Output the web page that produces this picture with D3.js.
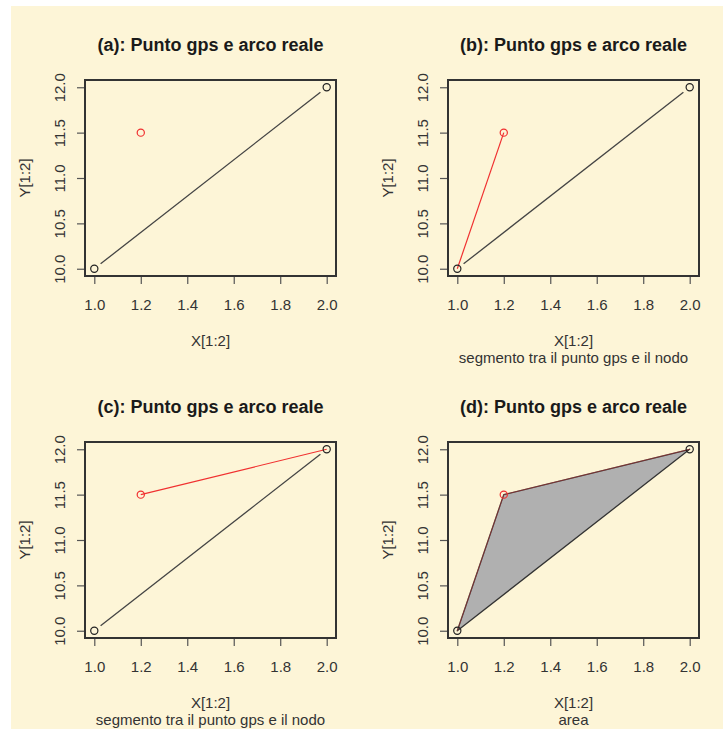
<!DOCTYPE html>
<html>
<head>
<meta charset="utf-8">
<script src="https://cdn.jsdelivr.net/npm/d3@7"></script>
<style>
html,body{margin:0;padding:0;background:#ffffff;}
svg{display:block;}
text{font-family:"Liberation Sans",Arial,Helvetica,sans-serif;}
</style>
</head>
<body>
<script>
// ---- data ----
const arcX = [1, 2];
const arcY = [10, 12];
const gpsX = [1.2];
const gpsY = [11.5];
const xTicks = [1.0, 1.2, 1.4, 1.6, 1.8, 2.0];
const yTicks = [10.0, 10.5, 11.0, 11.5, 12.0];
const titles = ["(a): Punto gps e arco reale", "(b): Punto gps e arco reale",
                "(c): Punto gps e arco reale", "(d): Punto gps e arco reale"];
const subs = ["", "segmento tra il punto gps e il nodo", "segmento tra il punto gps e il nodo", "area"];
const xLab = "X[1:2]";
const yLab = "Y[1:2]";

const W = 723, H = 729;
const svg = d3.select("body").append("svg").attr("width", W).attr("height", H);
svg.append("rect").attr("x", 11).attr("y", 6).attr("width", W - 11).attr("height", H - 6).attr("fill", "#fdf5d7");

const boxes = [
  {l: 85, t: 80, r: 336, b: 276},
  {l: 448, t: 80, r: 699, b: 276},
  {l: 85, t: 442, r: 336, b: 638},
  {l: 448, t: 442, r: 699, b: 638}
];

const ink = "#333";
const FS = 15;

function pad(d) { const e = (d[1] - d[0]) * 0.04; return [d[0] - e, d[1] + e]; }

boxes.forEach((bx, i) => {
  const g = svg.append("g");
  const x = d3.scaleLinear().domain(pad([d3.min(arcX), d3.max(arcX)])).range([bx.l, bx.r]);
  const y = d3.scaleLinear().domain(pad([d3.min(arcY), d3.max(arcY)])).range([bx.b, bx.t]);
  const cx = (bx.l + bx.r) / 2, cy = (bx.t + bx.b) / 2;

  // title
  g.append("text").attr("x", cx).attr("y", bx.t - 29).attr("text-anchor", "middle")
    .attr("font-size", 18).attr("font-weight", "bold").attr("fill", "#1a1a1a").text(titles[i]);

  // axes
  const ax = g.append("g").attr("transform", `translate(0,${bx.b})`)
    .call(d3.axisBottom(x).tickValues(xTicks).tickFormat(d3.format(".1f")).tickSize(8).tickPadding(15));
  ax.select(".domain").remove();
  ax.selectAll("line").attr("stroke", "#555").attr("stroke-width", 1.2);
  ax.selectAll("text").attr("font-size", FS).attr("fill", ink).attr("font-family", "Liberation Sans, Arial, sans-serif");

  const ay = g.append("g").attr("transform", `translate(${bx.l},0)`)
    .call(d3.axisLeft(y).tickValues(yTicks).tickFormat(d3.format(".1f")).tickSize(8));
  ay.select(".domain").remove();
  ay.selectAll("line").attr("stroke", "#555").attr("stroke-width", 1.2);
  ay.selectAll("text").attr("x", 0).attr("dy", 0)
    .attr("transform", "translate(-20,0) rotate(-90)")
    .attr("text-anchor", "middle")
    .attr("font-size", FS).attr("fill", ink).attr("font-family", "Liberation Sans, Arial, sans-serif");

  // axis labels
  g.append("text").attr("x", cx).attr("y", bx.b + 70).attr("text-anchor", "middle")
    .attr("font-size", FS).attr("fill", ink).text(xLab);
  if (subs[i]) {
    g.append("text").attr("x", cx).attr("y", bx.b + 87).attr("text-anchor", "middle")
      .attr("font-size", FS).attr("fill", ink).text(subs[i]);
  }
  g.append("text").attr("transform", `translate(${bx.l - 55},${cy}) rotate(-90)`).attr("text-anchor", "middle")
    .attr("font-size", FS).attr("fill", ink).text(yLab);

  const P0 = [x(arcX[0]), y(arcY[0])], P1 = [x(arcX[1]), y(arcY[1])], G = [x(gpsX[0]), y(gpsY[0])];

  if (i === 3) {
    // area polygon
    g.append("path").attr("d", d3.line()([P0, G, P1]) + "Z")
      .attr("fill", "#b0b0b0").attr("stroke", "#333").attr("stroke-width", 1.3).attr("stroke-linejoin", "round");
    g.append("path").attr("d", d3.line()([P0, G, P1]))
      .attr("fill", "none").attr("stroke", "#d33").attr("stroke-width", 0.8).attr("stroke-opacity", 0.55);
  } else {
    // arc with type "b" gaps
    const dx = P1[0] - P0[0], dy = P1[1] - P0[1], L = Math.hypot(dx, dy), gap = 8;
    const a = [P0[0] + dx / L * gap, P0[1] + dy / L * gap], b = [P1[0] - dx / L * gap, P1[1] - dy / L * gap];
    g.append("path").attr("d", d3.line()([a, b])).attr("stroke", "#444").attr("stroke-width", 1.3).attr("fill", "none");
    if (i === 1) {
      g.append("path").attr("d", d3.line()([G, P0])).attr("stroke", "#f03030").attr("stroke-width", 1.2);
    }
    if (i === 2) {
      g.append("path").attr("d", d3.line()([G, P1])).attr("stroke", "#f03030").attr("stroke-width", 1.2);
    }
  }

  // points
  arcX.forEach((v, k) => {
    g.append("circle").attr("cx", x(v)).attr("cy", y(arcY[k])).attr("r", 3.6)
      .attr("fill", "none").attr("stroke", "#222").attr("stroke-width", 1.2);
  });
  g.append("circle").attr("cx", G[0]).attr("cy", G[1]).attr("r", 3.6)
    .attr("fill", "none").attr("stroke", "#f03030").attr("stroke-width", 1.2);

  // box
  g.append("rect").attr("x", bx.l).attr("y", bx.t).attr("width", bx.r - bx.l).attr("height", bx.b - bx.t)
    .attr("fill", "none").attr("stroke", "#333").attr("stroke-width", 2);
});
</script>
</body>
</html>
